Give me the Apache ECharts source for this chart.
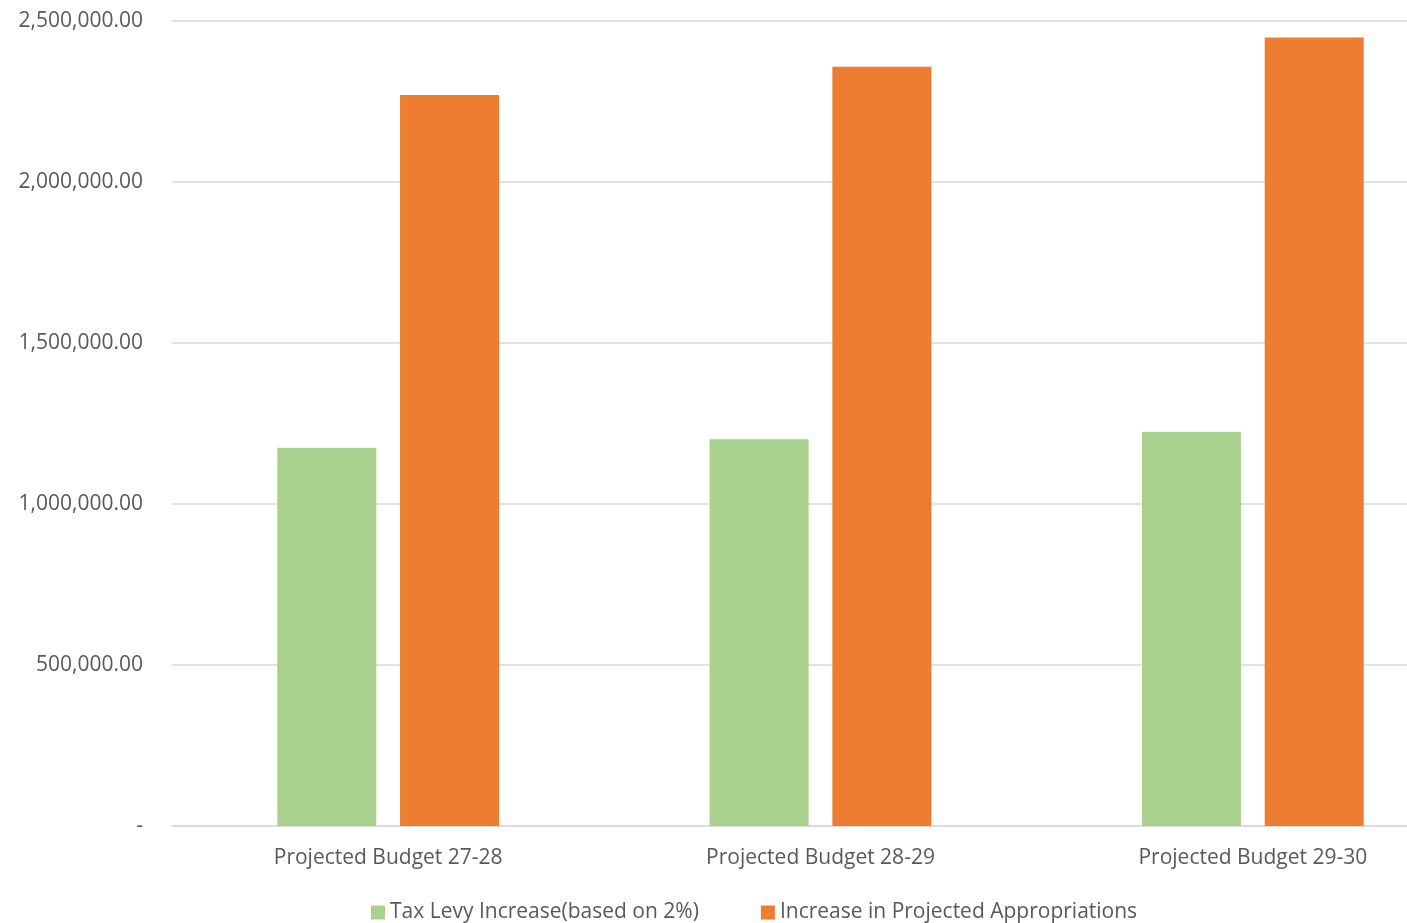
<!DOCTYPE html>
<html>
<head>
<meta charset="utf-8">
<script src="https://cdn.jsdelivr.net/npm/echarts@6/dist/echarts.min.js"></script>
<style>
html,body{margin:0;padding:0;background:#fff;overflow:hidden;width:1407px;height:923px;}
#chart{width:1469px;height:923px;}
</style>
</head>
<body>
<div id="chart"></div>
<script>
const categories = ["Projected Budget 27-28", "Projected Budget 28-29", "Projected Budget 29-30"];
const taxLevy = [1175000, 1201000, 1224500];
const appropriations = [2270000, 2358000, 2449000];
const seriesNames = ["Tax Levy Increase(based on 2%)", "Increase in Projected Appropriations"];

const chart = echarts.init(document.getElementById('chart'));
const font = "'Open Sans', 'Noto Sans', sans-serif";
chart.setOption({
  animation: false,
  backgroundColor: '#ffffff',
  grid: { left: 172, top: 21, bottom: 97, right: 0, containLabel: false },
  legend: {
    top: 897,
    left: 366,
    icon: 'rect',
    itemWidth: 14,
    itemHeight: 14,
    itemGap: 62,
    textStyle: { color: '#595959', fontSize: 21, fontFamily: font },
    data: seriesNames
  },
  xAxis: {
    type: 'category',
    data: categories,
    axisLine: { lineStyle: { color: '#d9d9d9', width: 1.5 } },
    axisTick: { show: false },
    axisLabel: { color: '#595959', fontSize: 21, fontFamily: font, margin: 22 }
  },
  yAxis: {
    type: 'value',
    min: 0,
    max: 2500000,
    interval: 500000,
    axisLine: { show: false },
    axisTick: { show: false },
    splitLine: { lineStyle: { color: '#d9d9d9', width: 1.5 } },
    axisLabel: {
      color: '#595959', fontSize: 21, fontFamily: font, margin: 29,
      formatter: function (v) {
        if (v === 0) return '-';
        return v.toLocaleString('en-US', { minimumFractionDigits: 2, maximumFractionDigits: 2 });
      }
    }
  },
  series: [
    { name: seriesNames[0], type: 'bar', data: taxLevy, barWidth: 99, barGap: '24%', itemStyle: { color: '#A9D18E' } },
    { name: seriesNames[1], type: 'bar', data: appropriations, barWidth: 99, barGap: '24%', itemStyle: { color: '#ED7D31' } }
  ]
});
</script>
</body>
</html>
